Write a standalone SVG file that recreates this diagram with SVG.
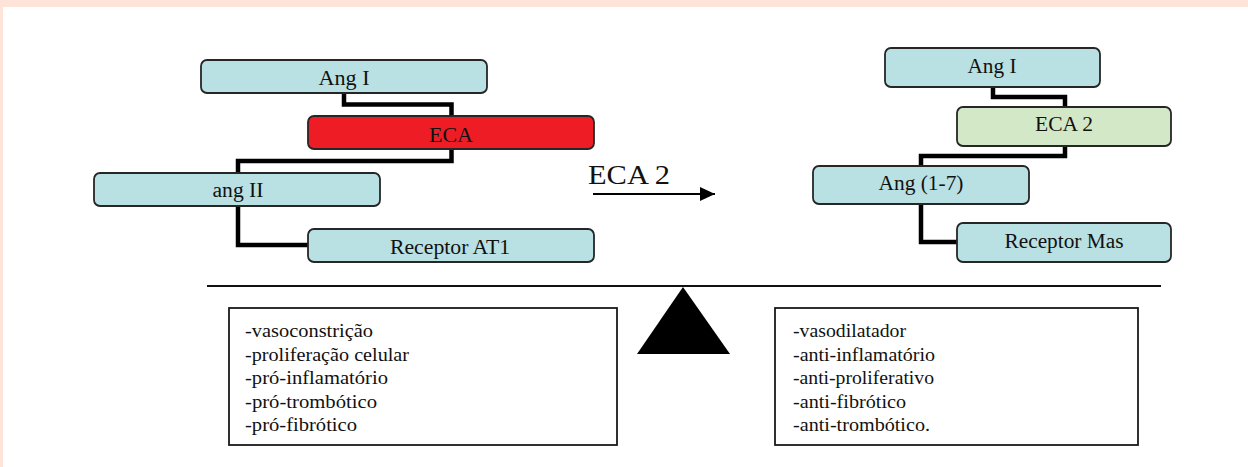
<svg xmlns="http://www.w3.org/2000/svg" width="1248" height="467" viewBox="0 0 1248 467">
  <style>
    .node { stroke: #262626; stroke-width: 1.8; }
    .ang { fill: #b9e0e2; }
    .eca { fill: #ee1d25; }
    .eca2 { fill: #d3e8c7; }
    .lbl { font-family: "Liberation Serif", "Times New Roman", serif; font-size: 20px; fill: #111; text-anchor: middle; }
    .link { fill: none; stroke: #000; stroke-width: 4.5; stroke-linejoin: miter; }
    .list { font-family: "Liberation Serif", "Times New Roman", serif; font-size: 19px; fill: #111; }
    .panel { fill: #fff; stroke: #1a1a1a; stroke-width: 1.8; }
  </style>
  <defs>
    <marker id="arrowhead" markerWidth="16" markerHeight="14" refX="15" refY="7" orient="auto" markerUnits="userSpaceOnUse">
      <path d="M0,0 L15,7 L0,14 Z" fill="#000"/>
    </marker>
  </defs>

  <!-- page frame -->
  <rect x="0" y="0" width="1248" height="467" fill="#fff"/>
  <rect x="0" y="0" width="1248" height="7" fill="#fde3d8"/>
  <rect x="0" y="0" width="3" height="467" fill="#fde3d8"/>

  <!-- connectors -->
  <g id="connectors">
    <path class="link" d="M344,93 V104.5 H451.5 V116"/>
    <path class="link" d="M451.5,149 V161 H238 V173"/>
    <path class="link" d="M238,206 V245 H308"/>
    <path class="link" d="M993,87 V97 H1065 V107"/>
    <path class="link" d="M1065,146 V156 H921 V166"/>
    <path class="link" d="M921,204 V242 H957"/>
    <line x1="593" y1="194" x2="715" y2="194" stroke="#000" stroke-width="2" marker-end="url(#arrowhead)"/>
  </g>

  <!-- left pathway: ECA axis -->
  <g id="ang1-left">
    <rect class="node ang" x="201" y="60" width="286" height="33" rx="6"/>
    <text class="lbl" x="344" y="85" textLength="51" lengthAdjust="spacingAndGlyphs">Ang I</text>
  </g>
  <g id="eca">
    <rect class="node eca" x="308" y="116" width="286" height="33" rx="6"/>
    <text class="lbl" x="451" y="142" textLength="44" lengthAdjust="spacingAndGlyphs">ECA</text>
  </g>
  <g id="ang2">
    <rect class="node ang" x="94" y="173" width="286" height="33" rx="6"/>
    <text class="lbl" x="238" y="197" textLength="51" lengthAdjust="spacingAndGlyphs">ang II</text>
  </g>
  <g id="receptor-at1">
    <rect class="node ang" x="308" y="229" width="286" height="33" rx="6"/>
    <text class="lbl" x="450" y="254" textLength="120" lengthAdjust="spacingAndGlyphs">Receptor AT1</text>
  </g>

  <!-- transition label -->
  <g id="eca2-label">
    <text x="588" y="184" font-family="Liberation Serif, Times New Roman, serif" font-size="28" fill="#111" textLength="82" lengthAdjust="spacingAndGlyphs">ECA 2</text>
  </g>

  <!-- right pathway: ECA 2 axis -->
  <g id="ang1-right">
    <rect class="node ang" x="885" y="48" width="215" height="39" rx="6"/>
    <text class="lbl" x="992" y="73" textLength="49" lengthAdjust="spacingAndGlyphs">Ang I</text>
  </g>
  <g id="eca2">
    <rect class="node eca2" x="957" y="107" width="214" height="39" rx="6"/>
    <text class="lbl" x="1064" y="131" textLength="58" lengthAdjust="spacingAndGlyphs">ECA 2</text>
  </g>
  <g id="ang17">
    <rect class="node ang" x="813" y="166" width="216" height="38" rx="6"/>
    <text class="lbl" x="921" y="190" textLength="85" lengthAdjust="spacingAndGlyphs">Ang (1-7)</text>
  </g>
  <g id="receptor-mas">
    <rect class="node ang" x="957" y="223" width="214" height="39" rx="6"/>
    <text class="lbl" x="1064" y="248" textLength="119" lengthAdjust="spacingAndGlyphs">Receptor Mas</text>
  </g>

  <!-- balance -->
  <g id="balance">
    <line x1="207" y1="286" x2="1161" y2="286" stroke="#111" stroke-width="2"/>
    <polygon points="683,287 730,354 637,354" fill="#000"/>
  </g>

  <!-- effect lists -->
  <g id="effects-left">
    <rect class="panel" x="229" y="308" width="388" height="137"/>
    <text class="list" x="245" y="337" textLength="128" lengthAdjust="spacingAndGlyphs">-vasoconstrição</text>
    <text class="list" x="245" y="360.5" textLength="164" lengthAdjust="spacingAndGlyphs">-proliferação celular</text>
    <text class="list" x="245" y="384" textLength="143" lengthAdjust="spacingAndGlyphs">-pró-inflamatório</text>
    <text class="list" x="245" y="407.5" textLength="132" lengthAdjust="spacingAndGlyphs">-pró-trombótico</text>
    <text class="list" x="245" y="431" textLength="112" lengthAdjust="spacingAndGlyphs">-pró-fibrótico</text>
  </g>
  <g id="effects-right">
    <rect class="panel" x="775" y="308" width="363" height="137"/>
    <text class="list" x="793" y="337" textLength="113" lengthAdjust="spacingAndGlyphs">-vasodilatador</text>
    <text class="list" x="793" y="360.5" textLength="142" lengthAdjust="spacingAndGlyphs">-anti-inflamatório</text>
    <text class="list" x="793" y="384" textLength="141" lengthAdjust="spacingAndGlyphs">-anti-proliferativo</text>
    <text class="list" x="793" y="407.5" textLength="113" lengthAdjust="spacingAndGlyphs">-anti-fibrótico</text>
    <text class="list" x="793" y="431" textLength="137" lengthAdjust="spacingAndGlyphs">-anti-trombótico.</text>
  </g>
</svg>
